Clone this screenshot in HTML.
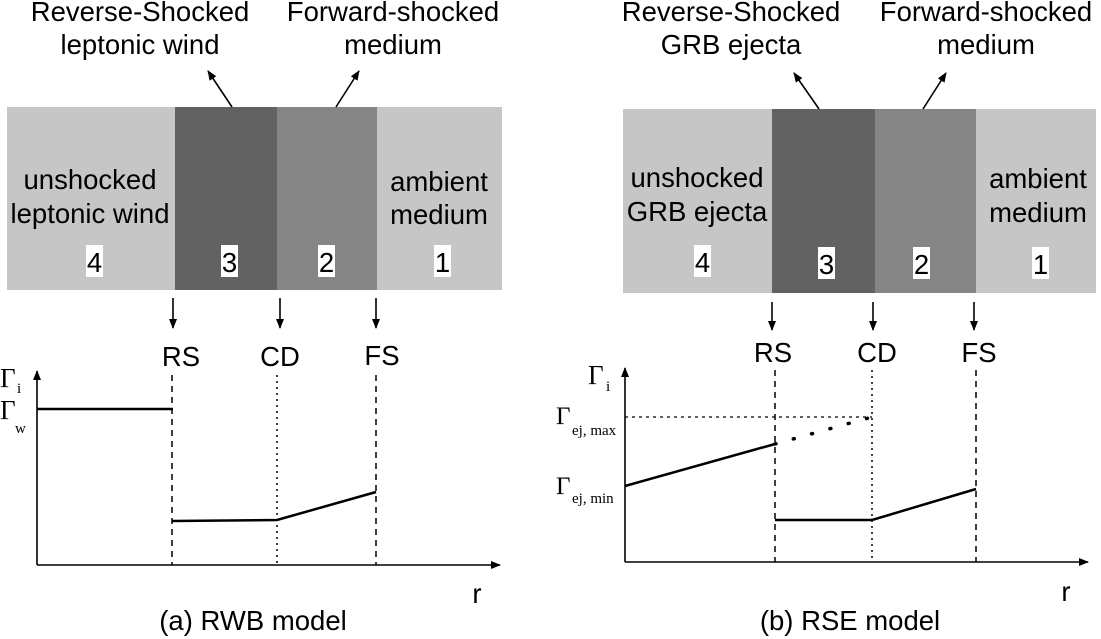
<!DOCTYPE html>
<html><head><meta charset="utf-8"><style>
html,body{margin:0;padding:0;background:#fff;}
svg{display:block;}
.s{font-family:"Liberation Sans",sans-serif;fill:#000;}
.r{font-family:"Liberation Serif",serif;fill:#000;}
</style></head><body>
<svg width="1101" height="639" viewBox="0 0 1101 639" xmlns="http://www.w3.org/2000/svg">
<defs>
<marker id="ah" markerWidth="10" markerHeight="10" refX="9" refY="5" orient="auto" markerUnits="userSpaceOnUse">
<path d="M0,1 L10,5 L0,9 Z" fill="#000"/></marker>
</defs>
<!-- LEFT PANEL -->
<rect x="7" y="107" width="168" height="183" fill="#c6c6c6"/>
<rect x="175" y="107" width="102" height="183" fill="#626262"/>
<rect x="277" y="107" width="100" height="183" fill="#858585"/>
<rect x="377" y="107" width="125" height="183" fill="#c6c6c6"/>
<g class="s" font-size="27.5" text-anchor="middle">
<text x="140" y="21">Reverse-Shocked</text>
<text x="140" y="54">leptonic wind</text>
<text x="393" y="21">Forward-shocked</text>
<text x="393" y="54">medium</text>
<text x="90" y="189">unshocked</text>
<text x="90" y="223">leptonic wind</text>
<text x="439" y="191">ambient</text>
<text x="439" y="224">medium</text>
</g>
<g fill="#fff">
<rect x="86" y="245" width="17" height="32"/><rect x="221" y="245" width="17" height="32"/>
<rect x="318" y="245" width="17" height="32"/><rect x="434" y="245" width="17" height="32"/>
</g>
<g class="s" font-size="27.5" text-anchor="middle">
<text x="94.5" y="272">4</text><text x="229.5" y="272">3</text><text x="326.5" y="272">2</text><text x="442.5" y="272">1</text>
</g>
<g stroke="#000" stroke-width="1.6" fill="none" marker-end="url(#ah)">
<line x1="232" y1="107" x2="208" y2="71"/>
<line x1="336" y1="107" x2="359" y2="71"/>
<line x1="173" y1="298" x2="173" y2="328"/>
<line x1="280" y1="298" x2="280" y2="328"/>
<line x1="376" y1="298" x2="376" y2="328"/>
<line x1="37" y1="565" x2="37" y2="371"/>
<line x1="37" y1="565" x2="500" y2="565"/>
</g>
<g class="s" font-size="27.5" text-anchor="middle">
<text x="181" y="366">RS</text><text x="280" y="366">CD</text><text x="382" y="365">FS</text>
<text x="477" y="603">r</text>
<text x="253" y="630">(a) RWB model</text>
</g>
<g class="r">
<text x="0" y="387" font-size="27">Γ</text><text x="17" y="393" font-size="15">i</text>
<text x="0" y="419" font-size="27">Γ</text><text x="15" y="433" font-size="15">w</text>
</g>
<g stroke="#000" fill="none">
<line x1="172" y1="375" x2="172" y2="565" stroke-width="1.5" stroke-dasharray="6,5"/>
<line x1="277" y1="375" x2="277" y2="565" stroke-width="1.5" stroke-dasharray="2,4"/>
<line x1="376" y1="375" x2="376" y2="565" stroke-width="1.5" stroke-dasharray="6,5"/>
<line x1="37" y1="409" x2="173" y2="409" stroke-width="2.5"/>
<polyline points="172,521 277,520 376,492" stroke-width="2.5"/>
</g>
<!-- RIGHT PANEL -->
<rect x="623" y="109" width="149" height="184" fill="#c6c6c6"/>
<rect x="772" y="109" width="103" height="184" fill="#626262"/>
<rect x="875" y="109" width="101" height="184" fill="#858585"/>
<rect x="976" y="109" width="120" height="184" fill="#c6c6c6"/>
<g class="s" font-size="27.5" text-anchor="middle">
<text x="731" y="21">Reverse-Shocked</text>
<text x="731" y="54">GRB ejecta</text>
<text x="986" y="21">Forward-shocked</text>
<text x="986" y="54">medium</text>
<text x="697" y="187">unshocked</text>
<text x="697" y="221">GRB ejecta</text>
<text x="1038" y="188">ambient</text>
<text x="1038" y="222">medium</text>
</g>
<g fill="#fff">
<rect x="694" y="245" width="17" height="32"/><rect x="818" y="247" width="17" height="32"/>
<rect x="913" y="247" width="17" height="32"/><rect x="1032" y="247" width="17" height="32"/>
</g>
<g class="s" font-size="27.5" text-anchor="middle">
<text x="702.5" y="272">4</text><text x="826.5" y="274">3</text><text x="921.5" y="274">2</text><text x="1040.5" y="274">1</text>
</g>
<g stroke="#000" stroke-width="1.6" fill="none" marker-end="url(#ah)">
<line x1="819" y1="109" x2="794" y2="73"/>
<line x1="923" y1="109" x2="946" y2="73"/>
<line x1="772" y1="302" x2="772" y2="330"/>
<line x1="873" y1="302" x2="873" y2="330"/>
<line x1="974" y1="302" x2="974" y2="330"/>
<line x1="625" y1="562" x2="625" y2="368"/>
<line x1="625" y1="562" x2="1088" y2="562"/>
</g>
<g class="s" font-size="27.5" text-anchor="middle">
<text x="773" y="362">RS</text><text x="877" y="362">CD</text><text x="979" y="362">FS</text>
<text x="1066" y="601">r</text>
<text x="850" y="630">(b) RSE model</text>
</g>
<g class="r">
<text x="588" y="384" font-size="27">Γ</text><text x="606" y="391" font-size="15">i</text>
<text x="556" y="424" font-size="25">Γ</text><text x="572" y="435" font-size="15">ej, max</text>
<text x="556" y="494" font-size="25">Γ</text><text x="572" y="503" font-size="15">ej, min</text>
</g>
<g stroke="#000" fill="none">
<line x1="625" y1="417" x2="872" y2="417" stroke-width="1.3" stroke-dasharray="3,4"/>
<line x1="775" y1="370" x2="775" y2="562" stroke-width="1.5" stroke-dasharray="6,5"/>
<line x1="872" y1="370" x2="872" y2="562" stroke-width="1.5" stroke-dasharray="2,4"/>
<line x1="976" y1="370" x2="976" y2="562" stroke-width="1.5" stroke-dasharray="6,5"/>
<line x1="625" y1="486" x2="775" y2="444" stroke-width="2.5"/>
<line x1="775" y1="444" x2="872" y2="417" stroke-width="3.5" stroke-dasharray="1,18" stroke-linecap="round"/>
<polyline points="775,520 872,520 976,489" stroke-width="2.5"/>
</g>
</svg>
</body></html>
